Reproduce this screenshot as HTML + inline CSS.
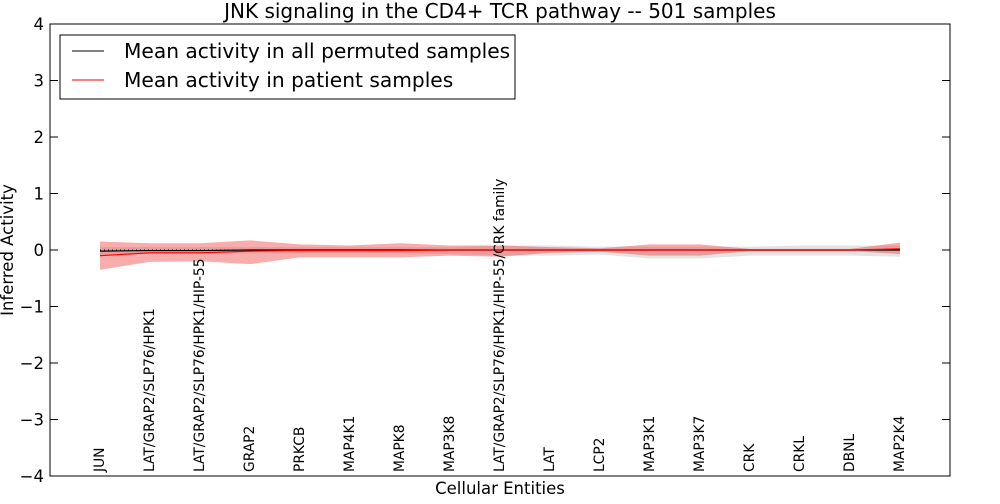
<!DOCTYPE html>
<html><head><meta charset="utf-8"><style>
body{margin:0;background:#fff;font-family:"DejaVu Sans","Liberation Sans",sans-serif}
</style></head><body>
<svg id="chart" width="1000" height="500" xmlns="http://www.w3.org/2000/svg" font-family="DejaVu Sans, Liberation Sans, sans-serif">
<text x="500" y="18" text-anchor="middle" font-size="20">JNK signaling in the CD4+ TCR pathway -- 501 samples</text>
<text x="500" y="494" text-anchor="middle" font-size="16.5">Cellular Entities</text>
<text transform="translate(13,250) rotate(-90)" text-anchor="middle" font-size="16.5">Inferred Activity</text>
<g id="bands"></g><g id="lines"></g><g id="axes"></g><g id="labels"></g>
<rect x="50" y="24" width="900" height="452" fill="none" stroke="#000"/>
<g>
<rect x="60" y="35" width="455" height="64" fill="#fff" stroke="#000"/>
<line x1="72" y1="51" x2="104" y2="51" stroke="#000"/>
<text x="124" y="58" font-size="20.2">Mean activity in all permuted samples</text>
<line x1="72" y1="80" x2="104" y2="80" stroke="#f00"/>
<text x="124" y="87" font-size="20.2">Mean activity in patient samples</text>
</g>
</svg>
<script>
const categories=["JUN","LAT/GRAP2/SLP76/HPK1","LAT/GRAP2/SLP76/HPK1/HIP-55","GRAP2","PRKCB","MAP4K1","MAPK8","MAP3K8","LAT/GRAP2/SLP76/HPK1/HIP-55/CRK family","LAT","LCP2","MAP3K1","MAP3K7","CRK","CRKL","DBNL","MAP2K4"];
const patientMean=[-0.1,-0.05,-0.05,-0.02,-0.01,-0.01,-0.01,0,0,0,0,0,0,0,0,0,0.02];
const patientUpper=[0.15,0.12,0.12,0.17,0.1,0.08,0.12,0.08,0.08,0.05,0.03,0.1,0.1,0.02,0.02,0.02,0.13];
const patientLower=[-0.35,-0.21,-0.2,-0.25,-0.13,-0.13,-0.13,-0.1,-0.12,-0.05,-0.03,-0.1,-0.1,-0.02,-0.02,-0.02,-0.07];
const permMean=[-0.02,-0.01,-0.01,0,0,0,0,0,0,0,0,0,0,0,0,0,0];
const permUpper=[0.05,0.05,0.05,0.05,0.05,0.05,0.05,0.05,0.08,0.08,0.06,0.06,0.06,0.06,0.08,0.08,0.08];
const permLower=[-0.07,-0.07,-0.07,-0.06,-0.06,-0.06,-0.06,-0.07,-0.1,-0.1,-0.08,-0.15,-0.15,-0.1,-0.1,-0.1,-0.12];
const yTicks=[-4,-3,-2,-1,0,1,2,3,4];
const NS="http://www.w3.org/2000/svg";
const X=i=>50+(i+1)*50, Y=v=>250-v*56.5;
function mk(t,a,p){const e=document.createElementNS(NS,t);for(const k in a)e.setAttribute(k,a[k]);document.getElementById(p).appendChild(e);return e;}
function band(u,l){return categories.map((c,i)=>X(i)+','+Y(u[i])).concat(categories.map((c,i)=>X(i)+','+Y(l[i])).reverse()).join(' ');}
function line(m){return categories.map((c,i)=>X(i)+','+Y(m[i])).join(' ');}
let e=mk('polygon',{points:band(permUpper,permLower),fill:'#bbb','fill-opacity':0.4},'bands');


e=mk('polygon',{points:band(patientUpper,patientLower),fill:'#e33','fill-opacity':0.4},'bands');


e=mk('line',{x1:X(0),x2:X(categories.length-1),y1:Y(0),y2:Y(0),stroke:'#000','stroke-dasharray':'1,3'},'lines');


e=mk('polyline',{points:line(permMean),fill:'none',stroke:'#000','stroke-width':1.2},'lines');


e=mk('polyline',{points:line(patientMean),fill:'none',stroke:'#f00','stroke-width':1.2},'lines');


yTicks.forEach(v=>{
 const y=Y(v);
 let t=mk('line',{x1:50,x2:58,y1:y,y2:y,stroke:'#000'},'axes');
 
 
 t=mk('line',{x1:942,x2:950,y1:y,y2:y,stroke:'#000'},'axes');
 
 
 const tx=mk('text',{x:44,y:y+6,'text-anchor':'end','font-size':16.5},'axes');
 tx.textContent=v<0?'\u2212'+(-v):String(v);
 
 
});
categories.forEach((c,i)=>{
 const t=mk('text',{transform:`translate(${X(i)+4},472) rotate(-90)`,'font-size':13.8},'labels');
 t.textContent=c;
 
 
});
</script>
</body></html>
